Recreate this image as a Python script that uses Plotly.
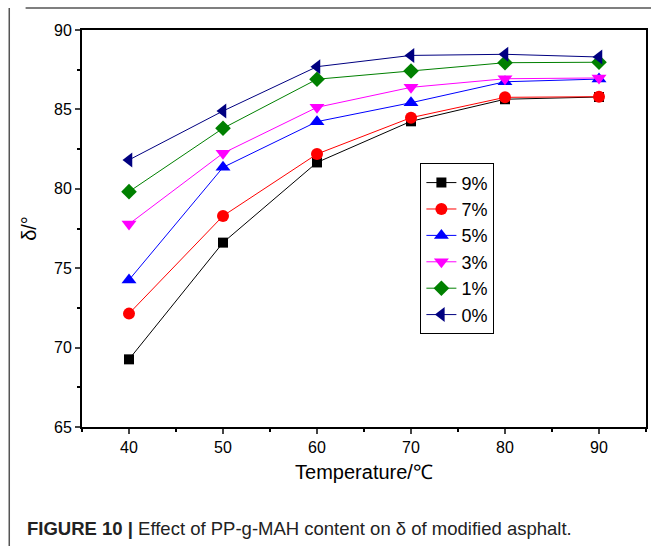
import plotly.graph_objects as go

temps = [40, 50, 60, 70, 80, 90]
labels = ["9%", "7%", "5%", "3%", "1%", "0%"]
s9 = [69.26, 76.61, 81.66, 84.25, 85.64, 85.78]
s7 = [72.14, 78.29, 82.19, 84.48, 85.76, 85.80]
s5 = [74.26, 81.35, 84.23, 85.42, 86.74, 86.91]
s3 = [77.78, 82.24, 85.13, 86.39, 86.93, 86.98]
s1 = [79.82, 83.81, 86.90, 87.42, 87.94, 87.97]
s0 = [81.82, 84.90, 87.69, 88.40, 88.47, 88.30]
series = [s9, s7, s5, s3, s1, s0]
colors = ["#000000", "#ff0000", "#0000ff", "#ff00ff", "#008000", "#000080"]
symbols = ["square", "circle", "triangle-up", "triangle-down", "diamond", "triangle-left"]
sizes = [10, 12, 13, 13, 12, 13]

fig = go.Figure()
for lab, ys, c, sym, sz in zip(labels, series, colors, symbols, sizes):
    fig.add_trace(go.Scatter(x=temps, y=ys, name=lab, mode="lines+markers",
                             line=dict(color=c, width=1),
                             marker=dict(symbol=sym, size=sz, color=c)))

font = "Liberation Sans, Arial, sans-serif"
fig.update_layout(
    width=651, height=546,
    margin=dict(l=82, r=3, t=30, b=119),
    paper_bgcolor="white", plot_bgcolor="white",
    font=dict(family=font, color="black"),
    showlegend=True,
    legend=dict(x=0.6, y=0.664, xanchor="left", yanchor="top",
                bordercolor="black", borderwidth=1, bgcolor="white",
                font=dict(size=18, family=font), tracegroupgap=0,
                itemwidth=30),
    xaxis=dict(range=[35, 95], tick0=40, dtick=10, ticks="outside", ticklen=5,
               tickwidth=1.5, showline=True, linewidth=2, linecolor="black",
               mirror=True, showgrid=False, zeroline=False,
               tickfont=dict(size=16),
               minor=dict(dtick=5, ticks="outside", ticklen=3, tickwidth=1.5, tickcolor="black"),
               title=dict(text="Temperature/℃", font=dict(size=20), standoff=10)),
    yaxis=dict(range=[65, 90], tick0=65, dtick=5, ticks="outside", ticklen=5,
               tickwidth=1.5, showline=True, linewidth=2, linecolor="black",
               mirror=True, showgrid=False, zeroline=False,
               tickfont=dict(size=16),
               minor=dict(dtick=2.5, ticks="outside", ticklen=3, tickwidth=1.5, tickcolor="black"),
               title=dict(text="δ/°", font=dict(size=20), standoff=12)),
)

# outer figure frame (top and left lines)
fig.add_shape(type="line", xref="paper", yref="paper", x0=-0.1, x1=1.2,
              y0=(427 - 8) / 397, y1=(427 - 8) / 397,
              line=dict(color="#555555", width=1.5))
fig.add_shape(type="line", xref="paper", yref="paper", x0=(9 - 82) / 566, x1=(9 - 82) / 566,
              y0=(427 - 8) / 397, y1=-0.5, line=dict(color="#555555", width=1.5))

fig.add_annotation(xref="paper", yref="paper", x=(25 - 82) / 566, y=(427 - 528) / 397,
                   xanchor="left", yanchor="middle", showarrow=False,
                   text="<b>FIGURE 10 |</b> Effect of PP-g-MAH content on δ of modified asphalt.",
                   font=dict(size=18.5, family=font, color="#222222"))

fig.write_html("out.html")
